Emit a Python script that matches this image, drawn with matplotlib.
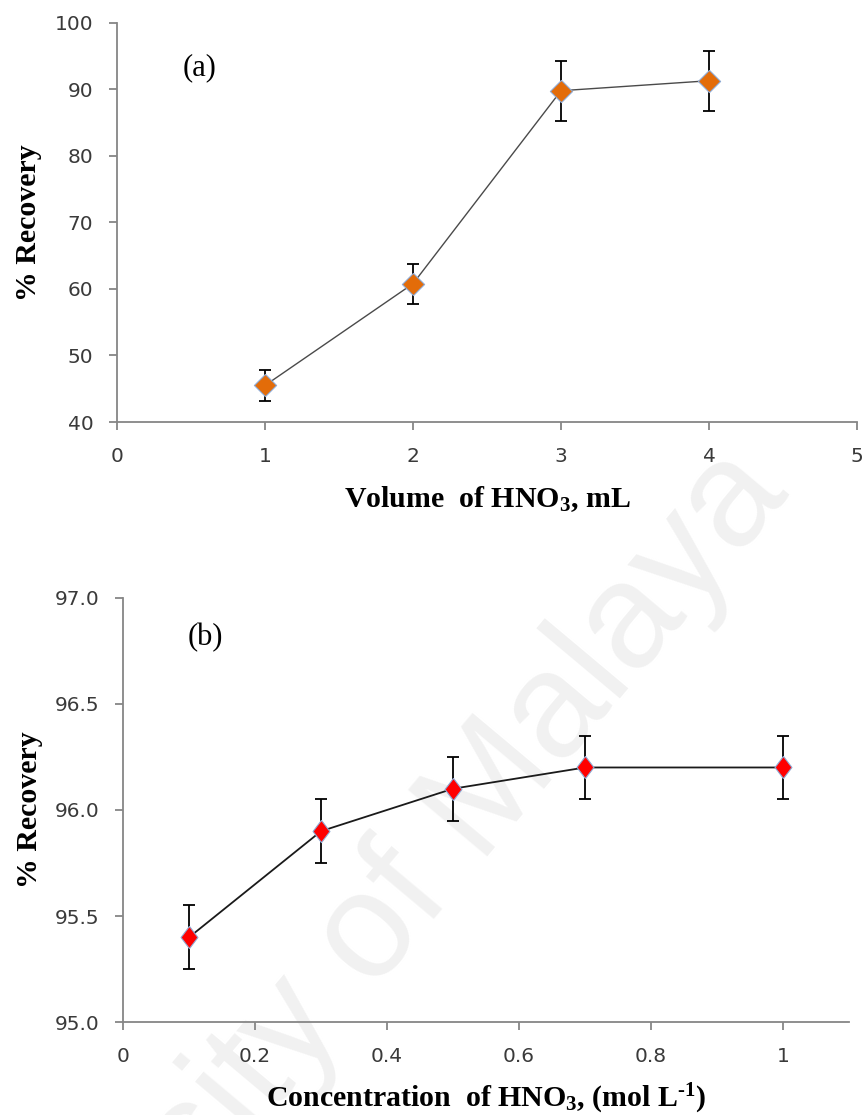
import numpy as np
import matplotlib
matplotlib.use("Agg")
import matplotlib.pyplot as plt
from matplotlib.ticker import FixedLocator, FormatStrFormatter, FuncFormatter

plt.rcParams["mathtext.fontset"] = "custom"
plt.rcParams["mathtext.rm"] = "Liberation Serif:bold"
plt.rcParams["mathtext.bf"] = "Liberation Serif:bold"
plt.rcParams["mathtext.it"] = "Liberation Serif:bold"

# (a) volume of eluent
vol_ml = [1, 2, 3, 4]
rec_vol = [45.5, 60.8, 89.8, 91.3]
err_vol = [2.3, 3.0, 4.5, 4.5]

# (b) eluent concentration
conc = [0.1, 0.3, 0.5, 0.7, 1.0]
rec_conc = [95.4, 95.9, 96.1, 96.2, 96.2]
err_conc = [0.15, 0.15, 0.15, 0.15, 0.15]

AXIS_GRAY = "#868686"
TICK_TXT = "#3a3a3a"
LABEL_FONT = dict(family="Liberation Serif", fontweight="bold", fontsize=21.5)

diamond_sq = [(0, 1), (1, 0), (0, -1), (-1, 0), (0, 1)]
diamond_tall = [(0, 1), (0.76, 0), (0, -1), (-0.76, 0), (0, 1)]


def style_axes(ax):
    ax.set_facecolor("none")
    for side in ("top", "right"):
        ax.spines[side].set_visible(False)
    for side in ("left", "bottom"):
        ax.spines[side].set_color(AXIS_GRAY)
        ax.spines[side].set_linewidth(1.3)
    ax.tick_params(direction="out", length=6, width=1.3, color=AXIS_GRAY,
                   labelcolor=TICK_TXT, labelsize=14.5)
    ax.tick_params(axis="x", pad=12)
    ax.tick_params(axis="y", pad=11)


def draw_series(ax, x, y, err, face, marker, line_color, lw):
    ax.errorbar(x, y, yerr=err, fmt="none", ecolor="black", elinewidth=1.3,
                capsize=4.5, capthick=1.3, zorder=2, clip_on=False)
    ax.plot(x, y, color=line_color, lw=lw, zorder=3, clip_on=False)
    ax.plot(x, y, ls="none", marker=marker, ms=16, mfc=face, mec="#8eaad4",
            mew=0.8, zorder=4, clip_on=False)


fig = plt.figure(figsize=(8.67, 11.15), dpi=100)

# faint diagonal watermark behind both panels
fig.text(0.378, 0.115, "University of Malaya", rotation=50, rotation_mode="anchor",
         ha="center", va="center", fontsize=108, color="#f1f1f1",
         family="Liberation Sans", zorder=-1)

# panel (a)
ax1 = fig.add_axes([0.135, 0.6215, 0.8535, 0.358])
style_axes(ax1)
draw_series(ax1, vol_ml, rec_vol, err_vol, "#E36C09", diamond_sq, "#4a4a4a", 1.0)
ax1.set_xlim(0, 5)
ax1.set_ylim(40, 100)
ax1.xaxis.set_major_locator(FixedLocator(np.arange(0, 6, 1)))
ax1.yaxis.set_major_locator(FixedLocator(np.arange(40, 101, 10)))
ax1.set_xlabel(r"Volume  of HNO$_3$, mL", va="baseline", **LABEL_FONT)
ax1.xaxis.set_label_coords(0.5, -0.213)
ax1.set_ylabel("% Recovery", **LABEL_FONT)
ax1.yaxis.set_label_coords(-0.101, 0.5)
ax1.text(0.112, 0.887, "(a)", transform=ax1.transAxes, ha="center", va="center",
         family="Liberation Serif", fontsize=22)

# panel (b)
ax2 = fig.add_axes([0.1419, 0.0832, 0.8375, 0.3808])
style_axes(ax2)
draw_series(ax2, conc, rec_conc, err_conc, "#FF0000", diamond_tall, "#1a1a1a", 1.3)
ax2.set_xlim(0, 1.1)
ax2.set_ylim(95.0, 97.0)
ax2.xaxis.set_major_locator(FixedLocator([0, 0.2, 0.4, 0.6, 0.8, 1.0]))
ax2.xaxis.set_major_formatter(FuncFormatter(lambda v, p: f"{v:g}"))
ax2.yaxis.set_major_locator(FixedLocator(np.arange(95.0, 97.01, 0.5)))
ax2.yaxis.set_major_formatter(FormatStrFormatter("%.1f"))
ax2.set_xlabel("Concentration  of HNO$_3$, (mol L$^{\u20101}$)", va="baseline", **LABEL_FONT)
ax2.xaxis.set_label_coords(0.5, -0.1995)
ax2.set_ylabel("% Recovery", **LABEL_FONT)
ax2.yaxis.set_label_coords(-0.110, 0.5)
ax2.text(0.113, 0.905, "(b)", transform=ax2.transAxes, ha="center", va="center",
         family="Liberation Serif", fontsize=22)

fig.savefig("out.png", dpi=100)
